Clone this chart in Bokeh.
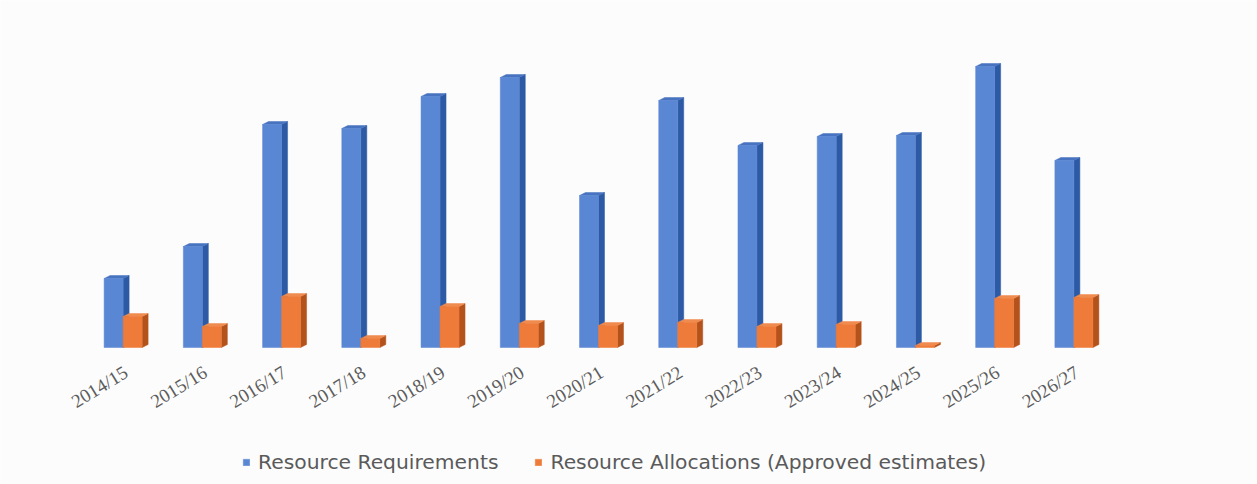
from bokeh.plotting import figure
from bokeh.models import Range1d, FixedTicker, Legend, LegendItem, ColumnDataSource
from bokeh.embed import file_html
from bokeh.resources import INLINE

# Financial years and the two series (arbitrary units, no value axis is shown)
years = ["2014/15", "2015/16", "2016/17", "2017/18", "2018/19", "2019/20", "2020/21",
         "2021/22", "2022/23", "2023/24", "2024/25", "2025/26", "2026/27"]
requirements = [69, 101, 223, 219, 251, 270, 152, 247, 202, 211, 212, 281, 187]
allocations = [31, 21, 51, 9, 41, 24, 22, 25, 21, 23, 2, 49, 50]

# Layout (pixels): the frame fills the whole canvas so the category labels
# and the legend can sit inside it, below the zero line
WIDTH, HEIGHT = 1257, 484
CAT_LEFT, CAT_W = 86, 1030         # pixel span occupied by the categories
TOP = 20
ZERO_PX = 347                      # pixel row of the zero line
Y_MAX = 327.0                      # value at TOP
px_x = CAT_W / len(years)          # pixels per category
px_y = (ZERO_PX - TOP) / Y_MAX     # pixels per value unit

X_MIN = -0.5 - CAT_LEFT / px_x
X_MAX = X_MIN + WIDTH / px_x
Y_TOP = Y_MAX + TOP / px_y
Y_MIN = -(HEIGHT - ZERO_PX) / px_y

BAR_W = 19 / px_x                  # front face width
DX = 6 / px_x                      # 3D depth, horizontal
DY = 3 / px_y                      # 3D depth, vertical

p = figure(width=WIDTH, height=HEIGHT,
           x_range=Range1d(X_MIN, X_MAX), y_range=Range1d(Y_MIN, Y_TOP),
           output_backend="svg", toolbar_location=None,
           min_border=0,
           background_fill_color="#fcfcfd", border_fill_color="#fcfcfd")
p.outline_line_color = None
p.xgrid.visible = False
p.ygrid.visible = False
p.yaxis.visible = False


def column_3d(values, left_px, front, side, top):
    """Draw a 3D-looking column series: front face, right side face and top face."""
    idx = list(range(len(values)))
    x0 = [i + left_px / px_x for i in idx]
    x1 = [a + BAR_W for a in x0]
    src = ColumnDataSource(dict(x=[(a + b) / 2 for a, b in zip(x0, x1)], top=values))
    side_xs = [[b, b + DX, b + DX, b] for b in x1]
    side_ys = [[0, DY, v + DY, v] for v in values]
    top_xs = [[a, b, b + DX, a + DX] for a, b in zip(x0, x1)]
    top_ys = [[v, v, v + DY, v + DY] for v in values]
    p.patches(side_xs, side_ys, fill_color=side, line_color=side, line_width=0.5)
    p.patches(top_xs, top_ys, fill_color=top, line_color=top, line_width=0.5)
    return p.vbar(x="x", top="top", bottom=0, width=BAR_W, source=src,
                  fill_color=front, line_color=front, line_width=0.5)


r_req = column_3d(requirements, -22, "#5a87d3", "#2d5aa5", "#4873c0")
r_all = column_3d(allocations, -3, "#ee7b39", "#b4521c", "#f08b4f")

ax = p.xaxis[0]
ax.fixed_location = 0
ax.ticker = FixedTicker(ticks=list(range(len(years))))
ax.major_label_overrides = {i: y for i, y in enumerate(years)}
ax.major_label_orientation = 0.55
ax.major_label_standoff = 17
ax.major_label_text_font = "Liberation Serif"
ax.major_label_text_font_size = "19px"
ax.major_label_text_color = "#5c5c5c"
ax.axis_line_color = None
ax.major_tick_line_color = None
ax.minor_tick_line_color = None

legend = Legend(items=[LegendItem(label="Resource Requirements", renderers=[r_req]),
                       LegendItem(label="Resource Allocations (Approved estimates)", renderers=[r_all])],
                orientation="horizontal", location=(242, 10),
                padding=0, margin=0, spacing=36, label_standoff=8,
                glyph_width=8, glyph_height=8, label_height=20,
                label_text_font="DejaVu Sans", label_text_font_size="20.3px",
                label_text_color="#5a5a5a",
                border_line_color=None, background_fill_alpha=0)
p.add_layout(legend)

open("out.html", "w").write(file_html(p, INLINE))
